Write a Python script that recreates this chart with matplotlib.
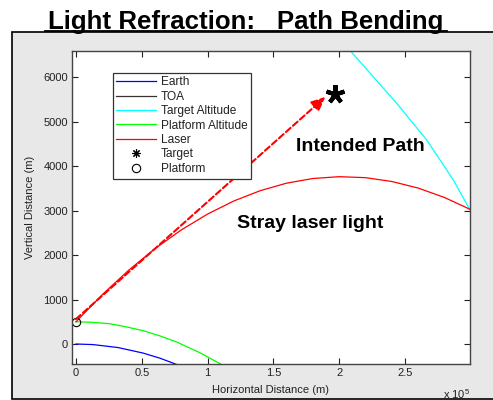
import matplotlib
matplotlib.use("Agg")
import matplotlib.pyplot as plt
from matplotlib.patches import Rectangle
from matplotlib.lines import Line2D
from matplotlib.ticker import FixedLocator, FuncFormatter

plt.rcParams['font.family'] = ['Liberation Sans', 'DejaVu Sans']
plt.rcParams['mathtext.fontset'] = 'custom'
plt.rcParams['mathtext.rm'] = 'Liberation Sans'

# ---- data (metres) ----
earth_x = [0, 13000, 32000, 51000, 64000, 78000]
earth_y = [0, -13, -80, -204, -321, -477]

toa_x = [0, 100000, 200000, 300000]
toa_y = [100000, 99215, 96861, 92937]

target_alt_x = [205000, 208700, 225900, 243700, 266500, 286700, 299400]
target_alt_y = [6700, 6591, 6013, 5416, 4591, 3693, 3018]

platform_alt_x = [0, 12000, 25800, 38000, 51100, 64000, 76500, 94200, 112000]
platform_alt_y = [500, 489, 456, 387, 300, 180, 45, -196, -485]

laser_x = [0, 20000, 40000, 60000, 80000, 100000, 120000, 140000, 160000,
           180000, 200000, 220000, 240000, 260000, 280000, 299400]
laser_y = [500, 1111, 1659, 2145, 2566, 2924, 3219, 3450, 3619,
           3724, 3765, 3743, 3657, 3509, 3297, 3031]

target_x = [197000]
target_y = [5620]

platform_x = [0]
platform_y = [500]

intended_start = (0, 560)
intended_end = (189500, 5560)

x_ticks = [0, 50000, 100000, 150000, 200000, 250000]
y_ticks = [0, 1000, 2000, 3000, 4000, 5000, 6000]

W, H = 493, 400
fig = plt.figure(figsize=(W / 100, H / 100), dpi=100)
fig.patch.set_facecolor('white')

# grey figure panel behind the axes
panel = Rectangle((12 / W, 1 / H), 1.2, (399 - 32) / H, transform=fig.transFigure,
                  facecolor='#e8e8e8', edgecolor='black', linewidth=1.2, zorder=-10)
fig.add_artist(panel)

# slide title with underline
fig.text(246 / W, 1 - 29 / H, 'Light Refraction:   Path Bending', ha='center',
         va='baseline', fontsize=18.6, fontweight='bold', color='black')
fig.add_artist(Line2D([45 / W, 447 / W], [1 - 31 / H, 1 - 31 / H],
                      transform=fig.transFigure, color='black', linewidth=1.3))

ax = fig.add_axes([72 / W, (H - 364) / H, 398 / W, (364 - 50.7) / H])
ax.set_zorder(1)
ax.set_facecolor('white')

lw = 0.9
ax.plot(earth_x, earth_y, color='#0000ff', lw=lw, label='Earth')
ax.plot(toa_x, toa_y, color='#333333', lw=lw, label='TOA')
ax.plot(target_alt_x, target_alt_y, color='#00ffff', lw=lw, label='Target Altitude')
ax.plot(platform_alt_x, platform_alt_y, color='#00ff00', lw=lw, label='Platform Altitude')
ax.plot(laser_x, laser_y, color='#ff0000', lw=lw, label='Laser')
ax.plot(target_x, target_y, linestyle='none', marker=(8, 2, 0), ms=6, mew=0.8,
        color='black', label='Target')
ax.plot(platform_x, platform_y, linestyle='none', marker='o', ms=6, mew=0.8,
        mfc='none', mec='black', label='Platform')

# big target asterisk
ax.plot(target_x, target_y, linestyle='none', marker=(5, 2, 0), ms=13.5, mew=3.0,
        color='black', zorder=5)

# intended (straight) path
ax.annotate('', xy=intended_end, xytext=intended_start,
            arrowprops=dict(arrowstyle='-|>,head_length=0.42,head_width=0.19',
                            mutation_scale=20, color='#ff0000', lw=1.5,
                            linestyle=(0, (3, 1.5)), shrinkA=0, shrinkB=0))

ax.text(215800, 4351, 'Intended Path', ha='center', va='baseline',
        fontsize=14, fontweight='bold', color='black')
ax.text(177800, 2607, 'Stray laser light', ha='center', va='baseline',
        fontsize=14, fontweight='bold', color='black')

ax.set_xlim(-3000, 299400)
ax.set_ylim(-450, 6600)

ax.xaxis.set_major_locator(FixedLocator(x_ticks))
ax.xaxis.set_major_formatter(FuncFormatter(lambda v, p: f'{v / 1e5:g}'))
ax.yaxis.set_major_locator(FixedLocator(y_ticks))

ax.tick_params(direction='in', length=4, width=0.8, top=True, right=True,
               labelsize=8, colors='#222222', pad=3)
for s in ax.spines.values():
    s.set_color('#444444')
    s.set_linewidth(1.0)

ax.set_xlabel('Horizontal Distance (m)', fontsize=8, color='#222222')
ax.set_ylabel('Vertical Distance (m)', fontsize=8, color='#222222')
ax.xaxis.set_label_coords(0.5, -0.066)
ax.yaxis.set_label_coords(-0.094, 0.5)

fig.text(443 / W, 1 - 387 / H, 'x 10$^{5}$', ha='left', va='top', fontsize=8,
         color='#222222')

leg = ax.legend(loc='upper left', bbox_to_anchor=(0.102, 0.93), borderaxespad=0,
                fontsize=8.6, handlelength=3.3, handletextpad=0.4,
                labelspacing=0.2, borderpad=0.32, frameon=True, fancybox=False,
                framealpha=1, edgecolor='#333333', facecolor='white')
leg.get_frame().set_linewidth(0.9)
for t in leg.get_texts():
    t.set_color('#222222')

fig.savefig('out.png', dpi=100)
